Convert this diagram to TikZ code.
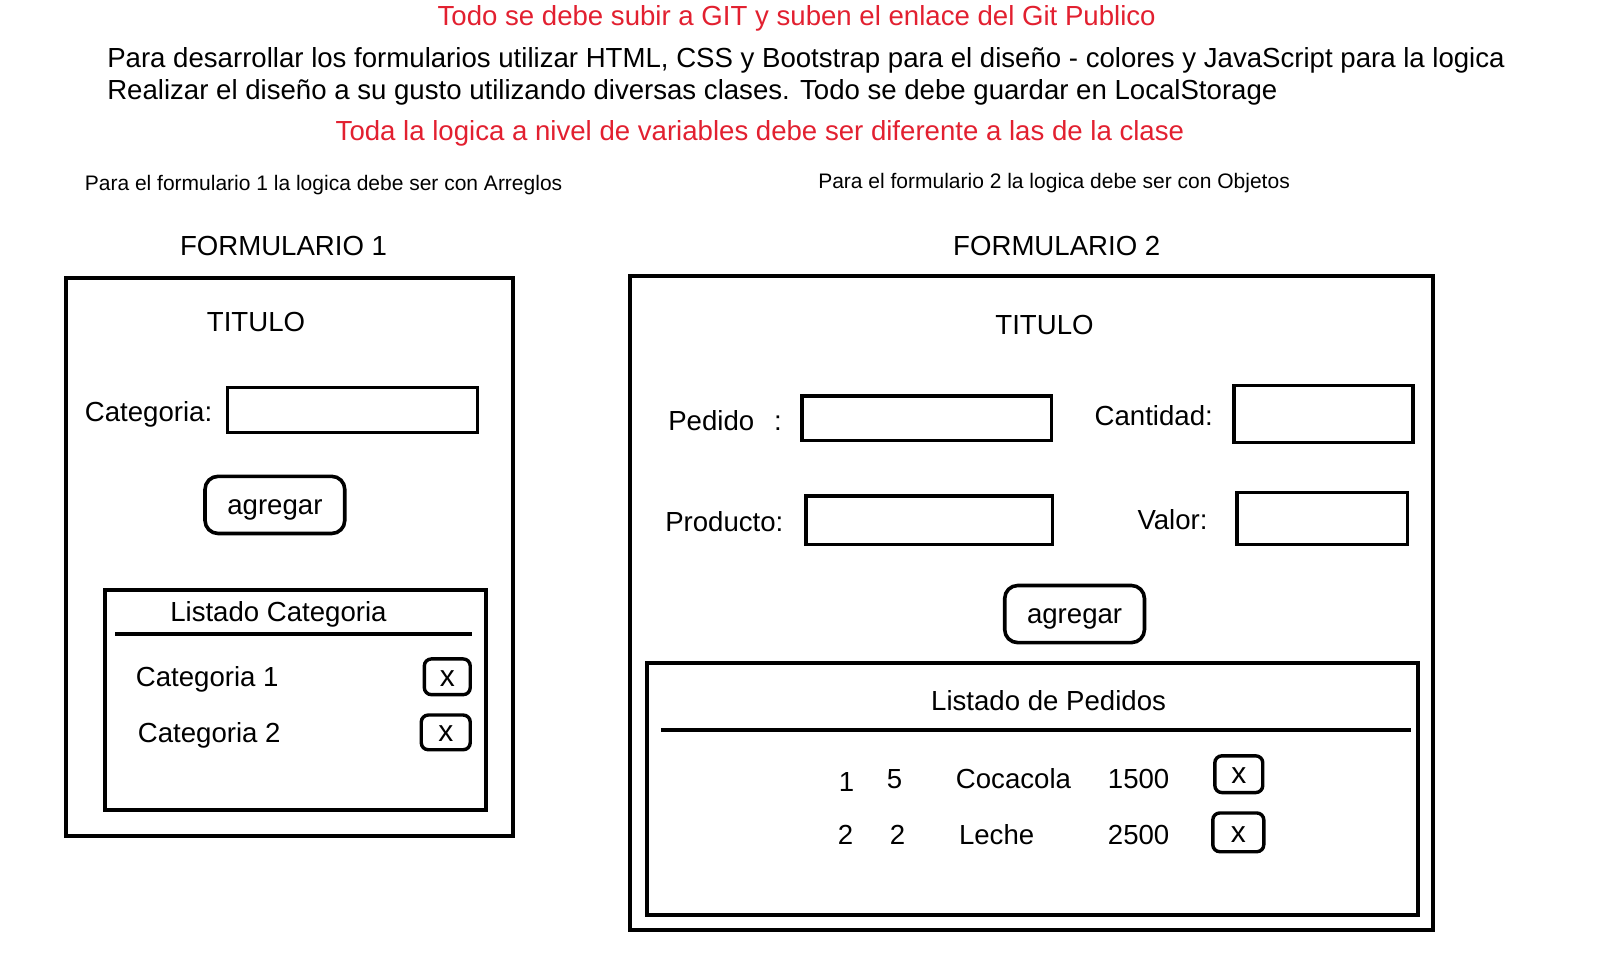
\documentclass[tikz,border=0pt]{standalone}
\usepackage{fontspec}
\setmainfont{Liberation Sans}
\usepackage{tikz}
\definecolor{gitred}{RGB}{226,32,48}
\tikzset{
	lbl/.style={font=\fontsize{27.6}{32}\selectfont, inner sep=0pt, text height=0.72em, text depth=0.21em, yshift=-6.8pt},
	note/.style={font=\fontsize{21}{24}\selectfont, inner sep=0pt, text height=0.72em, text depth=0.21em, yshift=-5.2pt},
	warn/.style={lbl, text=gitred},
	xlbl/.style={font=\fontsize{30}{33}\selectfont, inner sep=0pt, yshift=-1.5pt},
	frame/.style={line width=4pt},
	field/.style={line width=3.6pt},
	btn/.style={line width=3.6pt, rounded corners=13pt},
	xbtn/.style={line width=3.4pt, rounded corners=7pt}
}

\begin{document}
\begin{tikzpicture}[x=1.02pt, y=-1.02pt]
	%%%%% START %%%%%
	\useasboundingbox (0, 0) rectangle (1568.6, 939.2);
	
	\node[warn] (git) at (781, 16) {Todo se debe subir a GIT y suben el enlace del Git Publico};
	\node[lbl, anchor=west] (uso) at (105, 57) {Para desarrollar los formularios utilizar HTML, CSS y Bootstrap para el diseño - colores y JavaScript para la logica};
	\node[lbl, anchor=west] (gusto) at (105, 88) {Realizar el diseño a su gusto utilizando diversas clases. Todo se debe guardar en LocalStorage};
	\node[warn] (vars) at (745, 129) {Toda la logica a nivel de variables debe ser diferente a las de la clase};
	
	\node[note, anchor=west] (nota1) at (83, 179) {Para el formulario 1 la logica debe ser con Arreglos};
	\node[note, anchor=west] (nota2) at (802, 177) {Para el formulario 2 la logica debe ser con Objetos};
	
	%%%%% FORMULARIO 1 %%%%%
	\node[lbl] (form1) at (278, 241) {FORMULARIO 1};
	\draw[frame] (65, 273) rectangle (503, 820);
	\node[lbl] (titulo1) at (251, 316) {TITULO};
	
	\node[lbl, anchor=west] (categoria) at (83, 404) {Categoria:};
	\draw[field] (223, 380) rectangle (468, 424);
	
	\draw[btn] (201, 467) rectangle (338, 523);
	\node[lbl] (agregar1) at (269.5, 495) {agregar};
	
	\draw[frame] (103, 578) rectangle (476, 794);
	\node[lbl] (listado1) at (273, 600) {Listado Categoria};
	\draw[frame] (113, 622) -- (463, 622);
	
	\node[lbl, anchor=west] (cat1) at (133, 664) {Categoria 1};
	\draw[xbtn] (416, 646) rectangle (461, 681);
	\node[xlbl] (x1) at (438.5, 664) {x};
	
	\node[lbl, anchor=west] (cat2) at (135, 719) {Categoria 2};
	\draw[xbtn] (413, 701) rectangle (461, 735);
	\node[xlbl] (x2) at (437, 718) {x};
	
	%%%%% FORMULARIO 2 %%%%%
	\node[lbl] (form2) at (1036, 241) {FORMULARIO 2};
	\draw[frame] (618, 271) rectangle (1405, 912);
	\node[lbl] (titulo2) at (1024, 319) {TITULO};
	
	\node[lbl, anchor=west] (pedido) at (655, 413) {Pedido\hspace{20pt}:};
	\draw[field] (786, 388) rectangle (1031, 432);
	\node[lbl, anchor=west] (cantidad) at (1073, 408) {Cantidad:};
	\draw[field] (1210, 378) rectangle (1385, 434);
	
	\node[lbl, anchor=west] (producto) at (652, 512) {Producto:};
	\draw[field] (790, 486) rectangle (1032, 534);
	\node[lbl, anchor=west] (valor) at (1115, 510) {Valor:};
	\draw[field] (1213, 483) rectangle (1380, 534);
	
	\draw[btn] (985, 574) rectangle (1122, 630);
	\node[lbl] (agregar2) at (1053.5, 602) {agregar};
	
	\draw[frame] (634, 650) rectangle (1390, 897);
	\node[lbl] (listado2) at (1028, 687) {Listado de Pedidos};
	\draw[frame] (648, 716) -- (1383, 716);
	
	\node[lbl] (num1) at (830, 767) {1};
	\node[lbl] (cant1) at (877, 764) {5};
	\node[lbl, anchor=west] (prod1) at (937, 764) {Cocacola};
	\node[lbl, anchor=west] (val1) at (1086, 764) {1500};
	\draw[xbtn] (1191, 741) rectangle (1238, 777);
	\node[xlbl] (x3) at (1214.5, 759) {x};
	
	\node[lbl] (num2) at (829, 819) {2};
	\node[lbl] (cant2) at (880, 819) {2};
	\node[lbl, anchor=west] (prod2) at (940, 819) {Leche};
	\node[lbl, anchor=west] (val2) at (1086, 819) {2500};
	\draw[xbtn] (1189, 797) rectangle (1239, 835);
	\node[xlbl] (x4) at (1214, 817) {x};
	
	%%%%% END %%%%%
\end{tikzpicture}
\end{document}
